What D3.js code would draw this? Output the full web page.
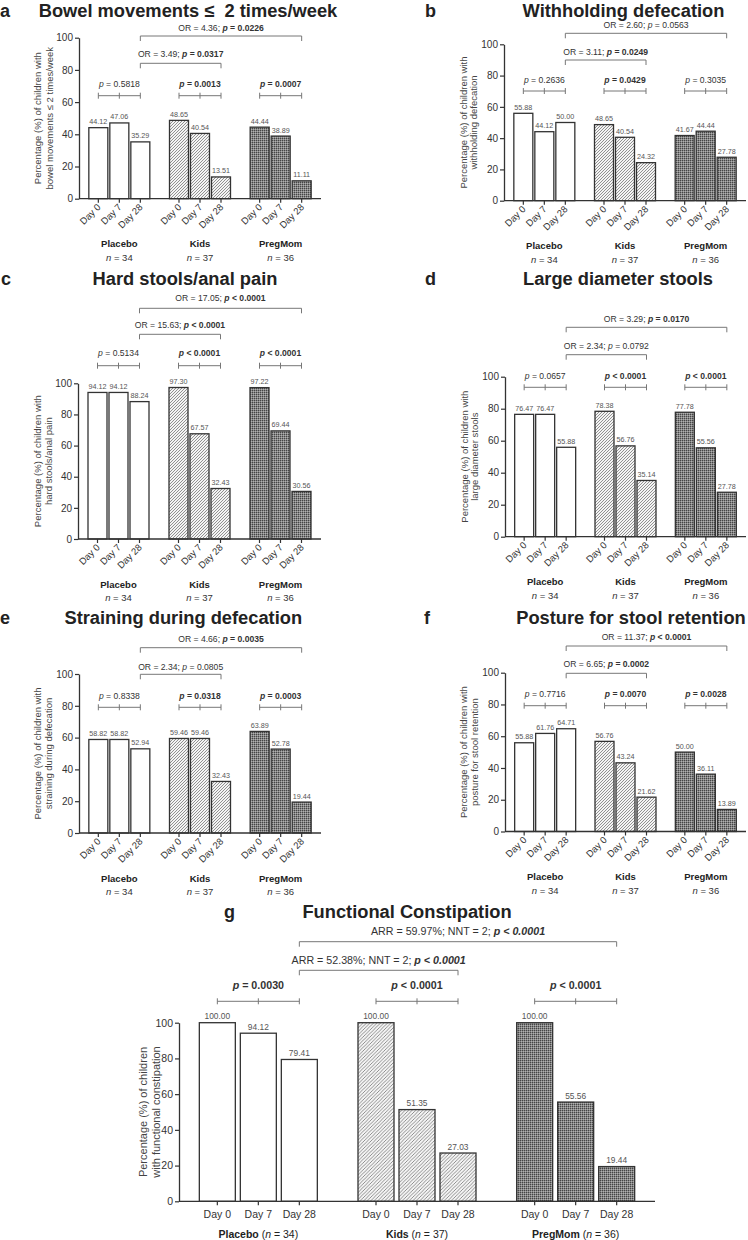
<!DOCTYPE html>
<html>
<head>
<meta charset="utf-8">
<script src="https://cdn.jsdelivr.net/npm/d3@7"></script>
<style>
  body { margin: 0; background: #fff; }
  text { font-family: "Liberation Sans", Arial, Helvetica, sans-serif; }
</style>
</head>
<body>
<script>
// categories
var groups = ["Placebo", "Kids", "PregMom"];
var groupN = ["34", "37", "36"];
var days = ["Day 0", "Day 7", "Day 28"];

// percentages per group (Placebo, Kids, PregMom) x (Day 0, Day 7, Day 28)
var bowelPct = [[44.12, 47.06, 35.29], [48.65, 40.54, 13.51], [44.44, 38.89, 11.11]];
var withholdPct = [[55.88, 44.12, 50.0], [48.65, 40.54, 24.32], [41.67, 44.44, 27.78]];
var hardPct = [[94.12, 94.12, 88.24], [97.3, 67.57, 32.43], [97.22, 69.44, 30.56]];
var largePct = [[76.47, 76.47, 55.88], [78.38, 56.76, 35.14], [77.78, 55.56, 27.78]];
var strainPct = [[58.82, 58.82, 52.94], [59.46, 59.46, 32.43], [63.89, 52.78, 19.44]];
var posturePct = [[55.88, 61.76, 64.71], [56.76, 43.24, 21.62], [50.0, 36.11, 13.89]];
var fcPct = [[100.0, 94.12, 79.41], [100.0, 51.35, 27.03], [100.0, 55.56, 19.44]];

// within-group p values and whether they are significant (bold)
var bowelP = ["= 0.5818", "= 0.0013", "= 0.0007"], bowelSig = [false, true, true];
var withholdP = ["= 0.2636", "= 0.0429", "= 0.3035"], withholdSig = [false, true, false];
var hardP = ["= 0.5134", "< 0.0001", "< 0.0001"], hardSig = [false, true, true];
var largeP = ["= 0.0657", "< 0.0001", "< 0.0001"], largeSig = [false, true, true];
var strainP = ["= 0.8338", "= 0.0318", "= 0.0003"], strainSig = [false, true, true];
var postureP = ["= 0.7716", "= 0.0070", "= 0.0028"], postureSig = [false, true, true];
var fcP = ["= 0.0030", "< 0.0001", "< 0.0001"], fcSig = [true, true, true];

// between-group comparisons: [Kids vs Placebo, PregMom vs Placebo]
var bowelOR = ["OR = 3.49", "OR = 4.36"], bowelORp = ["= 0.0317", "= 0.0226"], bowelORsig = [true, true];
var withholdOR = ["OR = 3.11", "OR = 2.60"], withholdORp = ["= 0.0249", "= 0.0563"], withholdORsig = [true, false];
var hardOR = ["OR = 15.63", "OR = 17.05"], hardORp = ["< 0.0001", "< 0.0001"], hardORsig = [true, true];
var largeOR = ["OR = 2.34", "OR = 3.29"], largeORp = ["= 0.0792", "= 0.0170"], largeORsig = [false, true];
var strainOR = ["OR = 2.34", "OR = 4.66"], strainORp = ["= 0.0805", "= 0.0035"], strainORsig = [false, true];
var postureOR = ["OR = 6.65", "OR = 11.37"], postureORp = ["= 0.0002", "< 0.0001"], postureORsig = [true, true];
var fcOR = ["ARR = 52.38%; NNT = 2", "ARR = 59.97%; NNT = 2"], fcORp = ["< 0.0001", "< 0.0001"], fcORsig = [true, true];

var yTicks = [0, 20, 40, 60, 80, 100];

var panels = [
  { letter: "a", title: "Bowel movements \u2264  2 times/week", values: bowelPct, p: bowelP, sig: bowelSig, or: bowelOR, orp: bowelORp, orsig: bowelORsig,
    ylab: ["Percentage (%) of children with", "bowel movements \u2264 2 times/week"] },
  { letter: "b", title: "Withholding defecation", values: withholdPct, p: withholdP, sig: withholdSig, or: withholdOR, orp: withholdORp, orsig: withholdORsig,
    ylab: ["Percentage (%) of children with", "withholding defecation"] },
  { letter: "c", title: "Hard stools/anal pain", values: hardPct, p: hardP, sig: hardSig, or: hardOR, orp: hardORp, orsig: hardORsig,
    ylab: ["Percentage (%) of children with", "hard stools/anal pain"] },
  { letter: "d", title: "Large diameter stools", values: largePct, p: largeP, sig: largeSig, or: largeOR, orp: largeORp, orsig: largeORsig,
    ylab: ["Percentage (%) of children with", "large diameter stools"] },
  { letter: "e", title: "Straining during defecation", values: strainPct, p: strainP, sig: strainSig, or: strainOR, orp: strainORp, orsig: strainORsig,
    ylab: ["Percentage (%) of children with", "straining during defecation"] },
  { letter: "f", title: "Posture for stool retention", values: posturePct, p: postureP, sig: postureSig, or: postureOR, orp: postureORp, orsig: postureORsig,
    ylab: ["Percentage (%) of children with", "posture for stool retention"] },
  { letter: "g", title: "Functional Constipation", values: fcPct, p: fcP, sig: fcSig, or: fcOR, orp: fcORp, orsig: fcORsig,
    ylab: ["Percentage (%) of children", "with functional constipation"] }
];

// layout of each panel (pixel geometry)
var layouts = [
  { x0: 79, x1: 321, y100: 37.7, y0: 198.7, wY: 95.7, wT: 84, o1Y: 63.3, o1T: 54, o2Y: 36, o2T: 28, lx: 0, tx: 188, ty: 16.5, yl: [38, 50] },
  { x0: 504, x1: 746, y100: 44.3, y0: 200.7, wY: 91, wT: 80, o1Y: 60, o1T: 51.7, o2Y: 33.3, o2T: 25.3, lx: 425, tx: 623.5, ty: 16.5, yl: [464, 474] },
  { x0: 78, x1: 321, y100: 383.3, y0: 539, wY: 365.7, wT: 353.3, o1Y: 334.3, o1T: 325, o2Y: 308.3, o2T: 298.3, lx: 1, tx: 185, ty: 285, yl: [38, 49] },
  { x0: 505, x1: 746, y100: 376.7, y0: 536.7, wY: 387.3, wT: 376, o1Y: 354.7, o1T: 346.3, o2Y: 327.3, o2T: 319, lx: 425, tx: 618, ty: 285, yl: [464.5, 475] },
  { x0: 79, x1: 321, y100: 674, y0: 833, wY: 707.3, wT: 695.7, o1Y: 674.3, o1T: 666.7, o2Y: 647.7, o2T: 638.7, lx: 0, tx: 183.3, ty: 624, yl: [38, 49] },
  { x0: 505, x1: 746, y100: 672.7, y0: 831.5, wY: 705.7, wT: 693.7, o1Y: 673.3, o1T: 664.3, o2Y: 646, o2T: 637.3, lx: 424, tx: 631, ty: 624, yl: [464, 475] },
  { x0: 179, x1: 655, y100: 1022.7, y0: 1201.3, wY: 1001.3, wT: 985.3, o1Y: 970.3, o1T: 960.3, o2Y: 941.7, o2T: 931.7, lx: 224, tx: 407, ty: 918, yl: [143, 156], big: true }
];

var w = 748, h = 1240;
var svg = d3.select("body").append("svg").attr("width", w).attr("height", h);
svg.append("rect").attr("width", w).attr("height", h).attr("fill", "#fff");

// fill patterns
var defs = svg.append("defs");
function hatch(id, size) {
  var pt = defs.append("pattern").attr("id", id).attr("patternUnits", "userSpaceOnUse")
    .attr("width", size).attr("height", size);
  pt.append("rect").attr("width", size).attr("height", size).attr("fill", "#f4f4f4");
  pt.append("path")
    .attr("d", "M-1,1 l2,-2 M0," + size + " l" + size + ",-" + size + " M" + (size - 1) + "," + (size + 1) + " l2,-2")
    .attr("stroke", "#777").attr("stroke-width", 0.8);
}
function checker(id) {
  var pt = defs.append("pattern").attr("id", id).attr("patternUnits", "userSpaceOnUse")
    .attr("width", 2).attr("height", 2);
  pt.append("rect").attr("width", 2).attr("height", 2).attr("fill", "#858585");
  pt.append("rect").attr("width", 1).attr("height", 1).attr("fill", "#454545");
  pt.append("rect").attr("x", 1).attr("y", 1).attr("width", 1).attr("height", 1).attr("fill", "#b0b0b0");
}
hatch("kidsHatch", 3);
hatch("kidsHatchBig", 3.5);
checker("momCheck");

function fills(big) {
  return ["#fff", big ? "url(#kidsHatchBig)" : "url(#kidsHatch)", "url(#momCheck)"];
}

// writes a text made of styled pieces
function rich(sel, parts) {
  parts.forEach(function (pt) {
    sel.append("tspan").text(pt.t)
      .attr("font-weight", pt.b ? "bold" : "normal")
      .attr("font-style", pt.i ? "italic" : "normal");
  });
  return sel;
}

function drawPanel(P, L) {
  var big = !!L.big;
  var g = svg.append("g");
  var step = big ? 41 : 21;
  var barW = big ? 36 : 19;
  var pad = 1 - barW / step;

  var y = d3.scaleLinear().domain([0, 100]).range([L.y0, L.y100]);
  var xg = d3.scaleBand().domain(groups).range([L.x0, L.x1]);
  var xd = d3.scaleBand().domain(days).range([-1.5 * step, 1.5 * step])
    .paddingInner(pad).paddingOuter(pad / 2);
  function gc(gr) { return xg(gr) + xg.bandwidth() / 2; }
  function cx(gr, d) { return gc(gr) + xd(d) + xd.bandwidth() / 2; }

  var fs = big
    ? { tick: 10.5, val: 8.4, p: 10.7, ylab: 11, day: 10.5, grp: 10.5 }
    : { tick: 10, val: 7.2, p: 8.6, ylab: 9.5, day: 9.5, grp: 9.5 };

  // title and panel letter
  g.append("text").attr("x", L.lx).attr("y", L.ty).text(P.letter)
    .attr("font-size", 18).attr("font-weight", "bold").attr("fill", "#222");
  g.append("text").attr("x", L.tx).attr("y", L.ty).text(P.title)
    .attr("text-anchor", "middle").attr("font-size", 18.3).attr("font-weight", "bold").attr("fill", "#222")
    .style("white-space", "pre");

  var rows = [];
  groups.forEach(function (gr, gi) {
    days.forEach(function (d, di) {
      rows.push({ gr: gr, gi: gi, d: d, v: P.values[gi][di] });
    });
  });
  var fl = fills(big);

  g.selectAll(".bar").data(rows).enter().append("rect")
    .attr("x", function (r) { return cx(r.gr, r.d) - xd.bandwidth() / 2; })
    .attr("y", function (r) { return y(r.v); })
    .attr("width", xd.bandwidth())
    .attr("height", function (r) { return y(0) - y(r.v); })
    .attr("fill", function (r) { return fl[r.gi]; })
    .attr("stroke", "#333").attr("stroke-width", 1.3);

  g.selectAll(".val").data(rows).enter().append("text")
    .attr("x", function (r) { return cx(r.gr, r.d); })
    .attr("y", function (r) { return y(r.v) - 3.5; })
    .attr("text-anchor", "middle").attr("font-size", fs.val).attr("fill", "#555")
    .text(function (r) { return r.v.toFixed(2); });

  // y axis
  var ya = g.append("g").attr("transform", "translate(" + L.x0 + ",0)")
    .call(d3.axisLeft(y).tickValues(yTicks).tickSize(4).tickSizeOuter(0).tickPadding(2));
  ya.select(".domain").attr("stroke", "#333").attr("stroke-width", 1.3);
  ya.selectAll(".tick line").attr("stroke", "#333").attr("stroke-width", 1.2);
  ya.selectAll(".tick text").attr("font-size", fs.tick).attr("fill", "#333")
    .style("font-family", '"Liberation Sans", Arial, sans-serif');

  // x axis
  g.append("line").attr("x1", L.x0).attr("x2", L.x1).attr("y1", L.y0).attr("y2", L.y0)
    .attr("stroke", "#333").attr("stroke-width", 1.3);
  g.selectAll(".xt").data(rows).enter().append("line")
    .attr("x1", function (r) { return cx(r.gr, r.d); })
    .attr("x2", function (r) { return cx(r.gr, r.d); })
    .attr("y1", L.y0).attr("y2", L.y0 + 4)
    .attr("stroke", "#333").attr("stroke-width", 1.2);

  if (big) {
    g.selectAll(".dl").data(rows).enter().append("text")
      .attr("x", function (r) { return cx(r.gr, r.d); })
      .attr("y", L.y0 + 17)
      .attr("text-anchor", "middle").attr("font-size", fs.day).attr("fill", "#333")
      .text(function (r) { return r.d; });
    groups.forEach(function (gr, gi) {
      var t = g.append("text").attr("x", gc(gr)).attr("y", L.y0 + 37)
        .attr("text-anchor", "middle").attr("font-size", fs.grp).attr("fill", "#222");
      rich(t, [{ t: gr, b: true }, { t: " (" }, { t: "n", i: true }, { t: " = " + groupN[gi] + ")" }]);
    });
  } else {
    g.selectAll(".dl").data(rows).enter().append("text")
      .attr("transform", function (r) {
        return "translate(" + (cx(r.gr, r.d) + 3) + "," + (L.y0 + 9) + ") rotate(-45)";
      })
      .attr("text-anchor", "end").attr("font-size", fs.day).attr("fill", "#333")
      .text(function (r) { return r.d; });
    groups.forEach(function (gr, gi) {
      g.append("text").attr("x", gc(gr)).attr("y", L.y0 + 48.5)
        .attr("text-anchor", "middle").attr("font-size", fs.grp).attr("font-weight", "bold")
        .attr("fill", "#222").text(gr);
      var t = g.append("text").attr("x", gc(gr)).attr("y", L.y0 + 62)
        .attr("text-anchor", "middle").attr("font-size", fs.grp).attr("fill", "#333");
      rich(t, [{ t: "n", i: true }, { t: " = " + groupN[gi] }]);
    });
  }

  // y axis label
  var ymid = (L.y0 + L.y100) / 2;
  P.ylab.forEach(function (line, li) {
    g.append("text")
      .attr("transform", "translate(" + (L.yl[li] + fs.ylab * 0.35) + "," + ymid + ") rotate(-90)")
      .attr("text-anchor", "middle").attr("font-size", fs.ylab).attr("fill", "#444")
      .text(line);
  });

  // within-group brackets
  var bc = "#777";
  groups.forEach(function (gr, gi) {
    var a = cx(gr, days[0]), b = cx(gr, days[2]);
    g.append("line").attr("x1", a).attr("x2", b).attr("y1", L.wY).attr("y2", L.wY)
      .attr("stroke", bc).attr("stroke-width", 1);
    days.forEach(function (d) {
      g.append("line").attr("x1", cx(gr, d)).attr("x2", cx(gr, d))
        .attr("y1", L.wY - 3).attr("y2", L.wY + 3).attr("stroke", bc).attr("stroke-width", 1);
    });
    var t = g.append("text").attr("x", gc(gr)).attr("y", L.wT + fs.p * 0.35)
      .attr("text-anchor", "middle").attr("font-size", fs.p).attr("fill", "#333");
    rich(t, [{ t: "p", i: true, b: P.sig[gi] }, { t: " " + P.p[gi], b: P.sig[gi] }]);
  });

  // between-group brackets
  var ref = cx(groups[0], days[2]);
  [1, 2].forEach(function (gi, k) {
    var end = cx(groups[gi], days[2]);
    var by = k === 0 ? L.o1Y : L.o2Y;
    var ty = k === 0 ? L.o1T : L.o2T;
    g.append("path")
      .attr("d", "M" + ref + "," + (by + 5) + "V" + by + "H" + end + "V" + (by + 5))
      .attr("fill", "none").attr("stroke", bc).attr("stroke-width", 1);
    var t = g.append("text").attr("x", (ref + end) / 2).attr("y", ty + fs.p * 0.35)
      .attr("text-anchor", "middle").attr("font-size", fs.p).attr("fill", "#333");
    var s = P.orsig[k];
    rich(t, [{ t: P.or[k] + "; " }, { t: "p", i: true, b: s }, { t: " " + P.orp[k], b: s, i: big }]);
  });
}

panels.forEach(function (P, i) { drawPanel(P, layouts[i]); });
</script>
</body>
</html>
